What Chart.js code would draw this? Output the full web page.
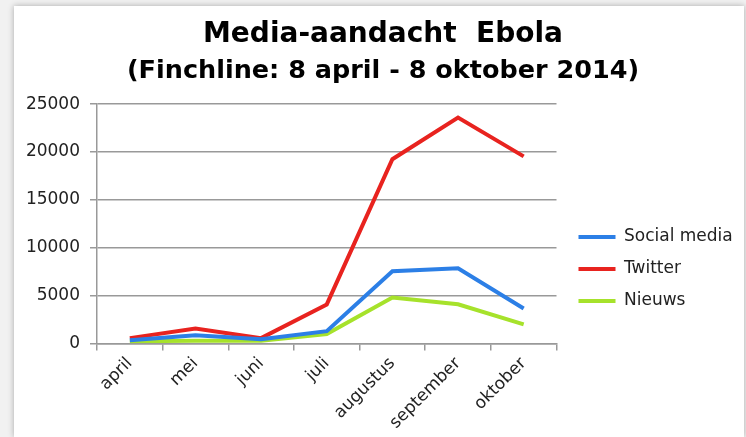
<!DOCTYPE html>
<html>
<head>
<meta charset="utf-8">
<script src="https://cdn.jsdelivr.net/npm/chart.js@4/dist/chart.umd.min.js"></script>
<style>
  html, body { margin: 0; padding: 0; }
  body { width: 746px; height: 437px; background: #f1f1f1; overflow: hidden; position: relative; }
  #wrap { position: absolute; left: 14px; top: 6px; width: 730px; height: 431px; background: #fff;
          box-shadow: 0 0 6px rgba(0,0,0,0.3); }
</style>
</head>
<body>
<div id="wrap"><canvas id="chart"></canvas></div>
<script>
const months = ['april', 'mei', 'juni', 'juli', 'augustus', 'september', 'oktober'];
const socialMedia = [350, 870, 450, 1290, 7550, 7850, 3650];
const twitter = [560, 1570, 560, 4080, 19250, 23600, 19550];
const nieuws = [230, 300, 300, 1000, 4800, 4100, 2000];
const yTicks = [0, 5000, 10000, 15000, 20000, 25000];

const tickFont = { family: 'DejaVu Sans', size: 17 };

// legend box a bit wider than chart.js makes it, and drawn lower / further right
const legendTweak = {
    id: 'legendTweak',
    afterInit(chart) {
        const fit = chart.legend.fit;
        chart.legend.fit = function () {
            fit.call(this);
            this.width += 5;
        };
    },
    afterLayout(chart) {
        chart.legend.top += 42;
        chart.legend.bottom += 42;
        chart.legend.left += 7;
        chart.legend.right += 7;
    }
};

new Chart(document.getElementById('chart'), {
    type: 'line',
    data: {
        labels: months,
        datasets: [
            { label: 'Social media', data: socialMedia, borderColor: '#2c7fe6', backgroundColor: '#2c7fe6' },
            { label: 'Twitter', data: twitter, borderColor: '#e8231f', backgroundColor: '#e8231f' },
            { label: 'Nieuws', data: nieuws, borderColor: '#a6e22b', backgroundColor: '#a6e22b' }
        ]
    },
    options: {
        responsive: true,
        maintainAspectRatio: false,
        animation: false,
        elements: {
            line: { borderWidth: 4, tension: 0 },
            point: { radius: 0 }
        },
        layout: { padding: { left: 12, right: 4, top: 12, bottom: 1 } },
        scales: {
            x: {
                offset: true,
                afterFit: (scale) => { scale.paddingLeft = 0; },
                grid: { display: true, drawOnChartArea: false, offset: true, tickLength: 7, color: '#999', lineWidth: 1.5 },
                border: { color: '#999', width: 1.5 },
                ticks: { font: tickFont, color: '#222', minRotation: 45, maxRotation: 45, padding: 3 }
            },
            y: {
                min: 0,
                max: 25000,
                afterBuildTicks: (scale) => { scale.ticks = yTicks.map(v => ({ value: v })); },
                afterFit: (scale) => { scale.width = 71; },
                grid: { color: '#999', lineWidth: 1.5, tickLength: 7 },
                border: { color: '#999', width: 1.5 },
                ticks: { font: tickFont, color: '#222', padding: 10, callback: (v) => String(v) }
            }
        },
        plugins: {
            title: {
                display: true,
                text: 'Media-aandacht  Ebola',
                color: '#000',
                font: { family: 'DejaVu Sans', weight: 'bold', size: 28 },
                padding: { top: 0, bottom: 0 }
            },
            subtitle: {
                display: true,
                text: '(Finchline: 8 april - 8 oktober 2014)',
                color: '#000',
                font: { family: 'DejaVu Sans', weight: 'bold', size: 25.5 },
                padding: { top: 4, bottom: 18 }
            },
            legend: {
                position: 'right',
                labels: {
                    font: tickFont,
                    color: '#222',
                    boxWidth: 37,
                    boxHeight: 4,
                    padding: 15,
                    generateLabels: (chart) => Chart.defaults.plugins.legend.labels.generateLabels(chart)
                        .map(item => Object.assign(item, { lineWidth: 0 }))
                }
            },
            tooltip: { enabled: false }
        }
    },
    plugins: [legendTweak]
});
</script>
</body>
</html>
